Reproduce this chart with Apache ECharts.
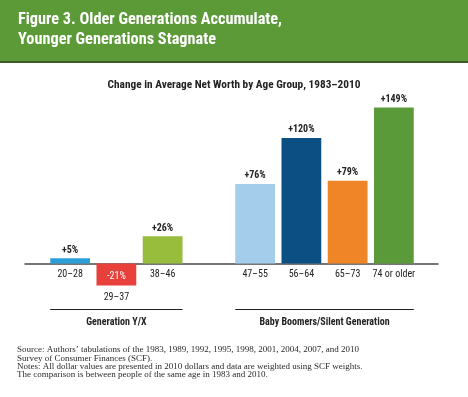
<!DOCTYPE html>
<html><head><meta charset="utf-8">
<script src="https://cdn.jsdelivr.net/npm/echarts@6/dist/echarts.min.js"></script>
<style>html,body{margin:0;padding:0;background:#fff}#c{width:468px;height:397px}</style>
</head><body><div id="c"></div>
<script>
const categories = ['20–28', '29–37', '38–46', '', '47–55', '56–64', '65–73', '74 or older'];
const values = [5, -21, 26, null, 76, 120, 79, 149];
const valueLabels = ['+5%', '-21%', '+26%', '', '+76%', '+120%', '+79%', '+149%'];
const barColors = ['#2a9fd8', '#e8413b', '#98bc3b', '#ffffff', '#a4cdec', '#0c4f82', '#f08528', '#5a9a39'];
const groupNames = ['Generation Y/X', 'Baby Boomers/Silent Generation'];
const groupSpans = [['20–28', '38–46'], ['47–55', '74 or older']];
const titleText = 'Figure 3. Older Generations Accumulate,\nYounger Generations Stagnate';
const subtitleText = 'Change in Average Net Worth by Age Group, 1983–2010';
const noteText = 'Source: Authors\u2019 tabulations of the 1983, 1989, 1992, 1995, 1998, 2001, 2004, 2007, and 2010\nSurvey of Consumer Finances (SCF).\nNotes: All dollar values are presented in 2010 dollars and data are weighted using SCF weights.\nThe comparison is between people of the same age in 1983 and 2010.';

const SANS = '"Roboto Condensed","Liberation Sans",sans-serif';
const SERIF = '"Liberation Serif","DejaVu Serif",serif';
const chart = echarts.init(document.getElementById('c'));

const barData = values.map((v, i) => {
  const item = { value: v, itemStyle: { color: barColors[i] } };
  if (v !== null && v < 0) {
    item.label = { position: 'insideTop', distance: 8, color: '#ffffff', fontWeight: 'normal' };
  }
  return item;
});

chart.setOption({
  animation: false,
  backgroundColor: '#ffffff',
  graphic: [
    { type: 'rect', left: 0, top: 0, shape: { width: 468, height: 61 }, style: { fill: '#5b9a37' }, z: -1 },
    { type: 'rect', left: 0, top: 61, shape: { width: 468, height: 2 }, style: { fill: '#3b5a2a' }, z: -1 }
  ],
  title: [
    { text: titleText, left: 18, top: 10, padding: 0, textStyle: { color: '#ffffff', fontSize: 16.3, fontWeight: 'bold', fontFamily: SANS, lineHeight: 20 } },
    { text: subtitleText, left: 'center', top: 78, padding: 0, textStyle: { color: '#222222', fontSize: 11.3, fontWeight: 'bold', fontFamily: SANS, lineHeight: 14 } },
    { text: noteText, left: 17, top: 346, padding: 0, textStyle: { color: '#2a2a2a', fontSize: 9, fontWeight: 'normal', fontFamily: SERIF, lineHeight: 8.2 } }
  ],
  grid: [
    { left: 47, width: 370, top: 96, height: 167.5 },
    { left: 25, width: 413, top: 96, height: 167.5 }
  ],
  xAxis: [
    {
      gridIndex: 0, type: 'category', data: categories, position: 'bottom',
      axisLine: { show: false, onZero: false },
      axisTick: { show: false },
      axisLabel: {
        margin: 6, color: '#222222', fontSize: 10, fontFamily: SANS, interval: 0,
        formatter: (name, idx) => (values[idx] !== null && values[idx] < 0) ? '{low|' + name + '}' : name,
        rich: { low: { padding: [23, 0, 0, 0], color: '#222222', fontSize: 10, fontFamily: SANS } }
      }
    },
    {
      gridIndex: 1, type: 'value', min: 0, max: 1, position: 'bottom',
      axisLine: { show: true, onZero: false, lineStyle: { color: '#4a4a4a', width: 1.5 } },
      axisTick: { show: false }, axisLabel: { show: false }, splitLine: { show: false }
    }
  ],
  yAxis: [
    { gridIndex: 0, type: 'value', min: 0, max: 160, show: false, splitLine: { show: false } },
    { gridIndex: 1, type: 'value', min: 0, max: 160, show: false, splitLine: { show: false } }
  ],
  series: [
    {
      type: 'bar', xAxisIndex: 0, yAxisIndex: 0, data: barData, barWidth: '86%', z: 1, clip: false,
      label: {
        show: true, position: 'top', distance: 3, color: '#222222', fontSize: 10, fontWeight: 'bold', fontFamily: SANS,
        formatter: p => valueLabels[p.dataIndex]
      }
    },
    {
      type: 'custom', xAxisIndex: 0, yAxisIndex: 0, clip: false, silent: true, z: 3,
      encode: { x: [0, 1], y: 2 },
      data: groupSpans.map(s => [s[0], s[1], 0]),
      renderItem: (params, api) => {
        const a = api.coord([api.value(0), 0]);
        const b = api.coord([api.value(1), 0]);
        const half = api.size([1, 0])[0] * 0.43;
        const y = a[1] + 46;
        return {
          type: 'group', children: [
            { type: 'line', shape: { x1: a[0] - half, y1: y, x2: b[0] + half, y2: y }, style: { stroke: '#222222', lineWidth: 1.2 } },
            { type: 'text', style: { x: (a[0] + b[0]) / 2, y: y + 13, text: groupNames[params.dataIndex], align: 'center', verticalAlign: 'middle', fontSize: 10, fontWeight: 'bold', fontFamily: SANS, fill: '#222222' } }
          ]
        };
      }
    }
  ]
});
</script></body></html>
